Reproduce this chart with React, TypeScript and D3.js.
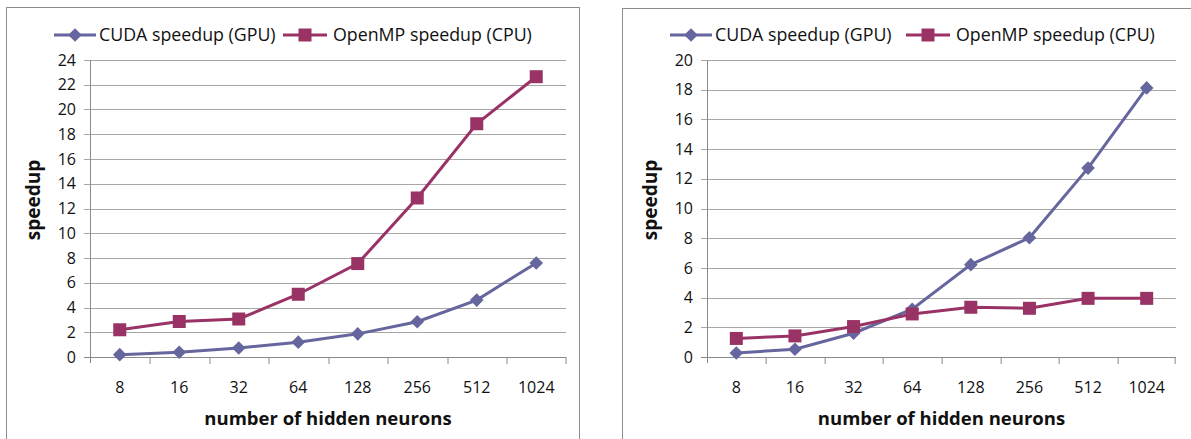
import * as d3 from "d3";
import React from "react";

const categories = ["8", "16", "32", "64", "128", "256", "512", "1024"];
const seriesNames = ["CUDA speedup (GPU)", "OpenMP speedup (CPU)"];
const cudaLeft = [0.19, 0.38, 0.73, 1.2, 1.87, 2.85, 4.6, 7.6];
const openmpLeft = [2.2, 2.87, 3.07, 5.07, 7.55, 12.85, 18.85, 22.65];
const cudaRight = [0.27, 0.52, 1.6, 3.22, 6.22, 8.03, 12.72, 18.12];
const openmpRight = [1.25, 1.42, 2.05, 2.9, 3.35, 3.28, 3.95, 3.95];

const CUDA_COLOR = "#66669e";
const OMP_COLOR = "#993366";
const FONT = "'Open Sans', 'DejaVu Sans', sans-serif";

type PanelProps = {
  box: [number, number, number, number];
  xRange: [number, number];
  yMax: number;
  cuda: number[];
  openmp: number[];
  legend: [number, number];
};

const Panel = ({ box, xRange, yMax, cuda, openmp, legend }: PanelProps) => {
  const x = d3.scaleBand<string>().domain(categories).range(xRange);
  const y = d3.scaleLinear().domain([0, yMax]).range([357, 60]);
  const yTicks = d3.range(0, yMax + 1, 2);
  const cx = (i: number) => (x(categories[i]) || 0) + x.bandwidth() / 2;

  const line = d3
    .line<number>()
    .x((_, i) => cx(i))
    .y((d) => y(d));

  const diamond = (px: number, py: number, r = 6.8) =>
    `M${px},${py - r}L${px + r},${py}L${px},${py + r}L${px - r},${py}Z`;

  const [x0, x1] = xRange;
  const legendY = 35;
  const sq = 13;

  return (
    <g>
      <rect x={box[0]} y={box[1]} width={box[2]} height={box[3]} fill="white" stroke="#8c8c8c" strokeWidth={1} />

      {/* gridlines */}
      {yTicks.map((t) => (
        <line key={"g" + t} x1={x0 - 6} x2={x1} y1={Math.round(y(t)) + 0.5} y2={Math.round(y(t)) + 0.5}
          stroke={t === 0 ? "#8a8a8a" : "#a6a6a6"} strokeWidth={1} />
      ))}
      {/* y axis */}
      <line x1={x0 + 0.5} x2={x0 + 0.5} y1={y(yMax)} y2={y(0) + 6} stroke="#8a8a8a" />
      {/* x ticks */}
      {categories.map((c, i) => (
        <line key={"xt" + c} x1={Math.round(x(c) || 0) + x.bandwidth() + 0.5 - (i === categories.length - 1 ? 1 : 0)}
          x2={Math.round(x(c) || 0) + x.bandwidth() + 0.5 - (i === categories.length - 1 ? 1 : 0)}
          y1={y(0)} y2={y(0) + 7} stroke="#8a8a8a" />
      ))}
      {yTicks.map((t) => (
        <text key={"yl" + t} x={x0 - 14} y={y(t)} dy="0.35em" textAnchor="end" fontSize={16} fontFamily={FONT} fill="#111">
          {t}
        </text>
      ))}
      {categories.map((c, i) => (
        <text key={"xl" + c} x={cx(i)} y={393} textAnchor="middle" fontSize={16} fontFamily={FONT} fill="#111">
          {c}
        </text>
      ))}
      <text x={(x0 + x1) / 2} y={425} textAnchor="middle" fontSize={18.5} fontWeight="bold" fontFamily={FONT} fill="#111">
        number of hidden neurons
      </text>
      <text transform={`translate(${x0 - 57},200) rotate(-90)`} textAnchor="middle" dy="0.35em" fontSize={19}
        fontWeight="bold" fontFamily={FONT} fill="#111">
        speedup
      </text>

      {/* series */}
      <path d={line(cuda) || undefined} fill="none" stroke={CUDA_COLOR} strokeWidth={3} />
      <path d={line(openmp) || undefined} fill="none" stroke={OMP_COLOR} strokeWidth={3} />
      {cuda.map((v, i) => (
        <path key={"cd" + i} d={diamond(cx(i), y(v))} fill={CUDA_COLOR} />
      ))}
      {openmp.map((v, i) => (
        <rect key={"om" + i} x={cx(i) - sq / 2} y={y(v) - sq / 2} width={sq} height={sq} fill={OMP_COLOR} />
      ))}

      {/* legend */}
      <line x1={legend[0]} x2={legend[0] + 42} y1={legendY} y2={legendY} stroke={CUDA_COLOR} strokeWidth={3} />
      <path d={diamond(legend[0] + 21, legendY)} fill={CUDA_COLOR} />
      <text x={legend[0] + 45} y={legendY} dy="0.35em" fontSize={17.8} fontFamily={FONT} fill="#111">
        {seriesNames[0]}
      </text>
      <line x1={legend[1]} x2={legend[1] + 44} y1={legendY} y2={legendY} stroke={OMP_COLOR} strokeWidth={3} />
      <rect x={legend[1] + 22 - sq / 2} y={legendY - sq / 2} width={sq} height={sq} fill={OMP_COLOR} />
      <text x={legend[1] + 50} y={legendY} dy="0.35em" fontSize={17.8} fontFamily={FONT} fill="#111">
        {seriesNames[1]}
      </text>
    </g>
  );
};

export default function App() {
  return (
    <svg width={1191} height={439} style={{ position: "absolute", left: 0, top: 0, background: "white" }}>
      <Panel box={[6.5, 7.5, 573, 460]} xRange={[90, 566]} yMax={24} cuda={cudaLeft} openmp={openmpLeft} legend={[54, 283]} />
      <Panel box={[622.5, 8.5, 600, 460]} xRange={[707, 1176]} yMax={20} cuda={cudaRight} openmp={openmpRight} legend={[670, 906]} />
    </svg>
  );
}
